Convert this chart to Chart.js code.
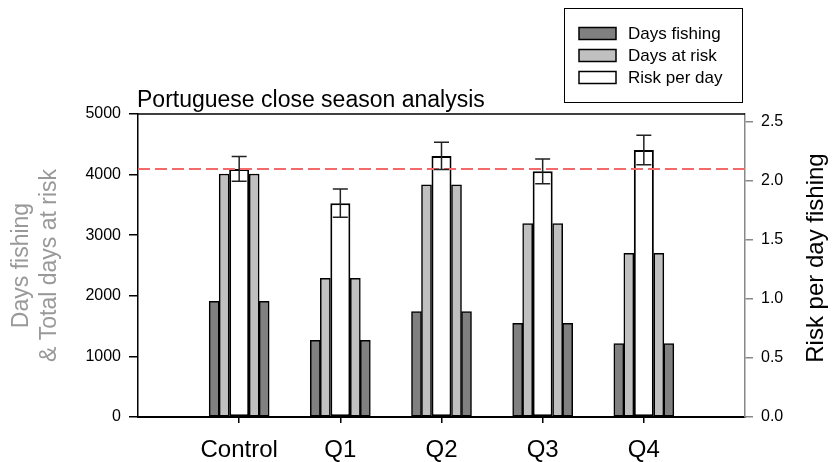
<!DOCTYPE html>
<html>
<head>
<meta charset="utf-8">
<script src="https://cdn.jsdelivr.net/npm/chart.js@4/dist/chart.umd.min.js"></script>
<style>
    html, body { margin: 0; padding: 0; background: #fff; }
</style>
</head>
<body>
<canvas id="myChart" width="834" height="462"></canvas>
<script>
const categories = ['Control', 'Q1', 'Q2', 'Q3', 'Q4'];
const daysFishing = [1910, 1265, 1740, 1545, 1210];
const daysAtRisk = [4010, 2290, 3830, 3190, 2700];
const riskPerDay = [2.10, 1.81, 2.21, 2.08, 2.26];
const riskError = [0.105, 0.12, 0.115, 0.105, 0.125];
const referenceRisk = 2.10;
const leftTicks = [0, 1000, 2000, 3000, 4000, 5000];
const rightTicks = [0, 0.5, 1.0, 1.5, 2.0, 2.5];

const FONT = "'Liberation Sans', Arial, sans-serif";
const chartTitle = 'Portuguese close season analysis';
const rightTitle = 'Risk per day fishing';

// one empty slot each side of the categories, like the original x range
const labels = ['', ...categories, ''];


function pad(values) {
    return [null, ...values, null];
}


function barSet(label, values, color, inLegend) {
    return {
        type: 'bar',
        label: label,
        data: pad(values),
        backgroundColor: color,
        borderColor: '#000',
        borderWidth: 1.5,
        borderSkipped: false,
        barThickness: 10,
        yAxisID: 'y',
        inLegend: inLegend
    };
}


function getDatasets() {
    return [
        barSet('Days fishing', daysFishing, '#808080', true),
        barSet('Days at risk', daysAtRisk, '#c0c0c0', true),
        barSet('', [null, null, null, null, null], '#fff', false),
        barSet('', [null, null, null, null, null], '#fff', false),
        barSet('Days at risk', daysAtRisk, '#c0c0c0', false),
        barSet('Days fishing', daysFishing, '#808080', false),
        {
            type: 'bar',
            label: 'Risk per day',
            data: pad(riskPerDay),
            backgroundColor: '#fff',
            borderColor: '#000',
            borderWidth: 2,
            borderSkipped: false,
            grouped: false,
            categoryPercentage: 0.198,
            barPercentage: 1,
            yAxisID: 'y1',
            inLegend: true
        },
        {
            type: 'line',
            label: 'reference',
            data: labels.map(() => referenceRisk),
            borderColor: '#f26a6a',
            borderWidth: 2,
            borderDash: [12, 5],
            pointRadius: 0,
            yAxisID: 'y1',
            order: -1
        }
    ];
}


const decorations = {
    id: 'decorations',
    afterDatasetsDraw(chart) {
        const ctx = chart.ctx;
        const riskIndex = chart.data.datasets.findIndex(d => d.label === 'Risk per day');
        const meta = chart.getDatasetMeta(riskIndex);
        const scale = chart.scales.y1;
        ctx.save();
        ctx.strokeStyle = '#222';
        ctx.lineWidth = 1.5;
        riskPerDay.forEach((v, i) => {
            const x = meta.data[i + 1].x;
            const top = scale.getPixelForValue(v + riskError[i]);
            const bottom = scale.getPixelForValue(v - riskError[i]);
            ctx.beginPath();
            ctx.moveTo(x, top);
            ctx.lineTo(x, bottom);
            ctx.moveTo(x - 7.5, top);
            ctx.lineTo(x + 7.5, top);
            ctx.moveTo(x - 7.5, bottom);
            ctx.lineTo(x + 7.5, bottom);
            ctx.stroke();
        });
        ctx.restore();
    },
    afterDraw(chart) {
        const ctx = chart.ctx;
        const area = chart.chartArea;
        ctx.save();

        // frame line on top of the plot
        ctx.strokeStyle = '#000';
        ctx.lineWidth = 1.5;
        ctx.beginPath();
        ctx.moveTo(area.left, area.top);
        ctx.lineTo(area.right, area.top);
        ctx.stroke();

        // title
        ctx.fillStyle = '#000';
        ctx.font = '23px ' + FONT;
        ctx.textAlign = 'left';
        ctx.textBaseline = 'alphabetic';
        ctx.fillText(chartTitle, area.left - 1, 107);

        // right axis title, reading upwards
        ctx.save();
        ctx.translate(816, 258);
        ctx.rotate(-Math.PI / 2);
        ctx.font = '24px ' + FONT;
        ctx.textAlign = 'center';
        ctx.textBaseline = 'middle';
        ctx.fillText(rightTitle, 0, 0);
        ctx.restore();

        // legend box
        const boxX = area.right - 181;
        const boxY = 8;
        ctx.lineWidth = 1;
        ctx.strokeRect(boxX + 0.5, boxY + 0.5, 178, 94);
        ctx.font = '17px ' + FONT;
        ctx.textBaseline = 'middle';
        const items = chart.data.datasets.filter(d => d.inLegend);
        items.forEach((d, i) => {
            const y = boxY + 25.5 + i * 22;
            ctx.fillStyle = d.backgroundColor;
            ctx.fillRect(boxX + 15, y - 6, 37, 12);
            ctx.lineWidth = 1.5;
            ctx.strokeStyle = '#000';
            ctx.strokeRect(boxX + 15, y - 6, 37, 12);
            ctx.fillStyle = '#000';
            ctx.fillText(d.label, boxX + 64, y + 1);
        });
        ctx.restore();
    }
};


function createChart() {
    const ctx = document.getElementById('myChart').getContext('2d');
    new Chart(ctx, {
        data: {
            labels: labels,
            datasets: getDatasets()
        },
        options: {
            responsive: false,
            animation: false,
            devicePixelRatio: 1,
            layout: { padding: { top: 114, left: 0, right: 0, bottom: 0 } },
            plugins: {
                legend: { display: false },
                title: { display: false },
                tooltip: { enabled: false }
            },
            scales: {
                x: {
                    type: 'category',
                    offset: false,
                    grid: {
                        offset: false,
                        drawOnChartArea: false,
                        tickLength: 6,
                        lineWidth: 1.5,
                        color: c => (c.index === 0 || c.index === labels.length - 1) ? 'rgba(0,0,0,0)' : '#000'
                    },
                    border: { color: '#000', width: 2 },
                    ticks: {
                        color: '#000',
                        font: { family: FONT, size: 24 },
                        padding: 13,
                        autoSkip: false,
                        maxRotation: 0
                    },
                    afterFit: s => { s.height = 45; }
                },
                y: {
                    position: 'left',
                    min: 0,
                    max: 5000,
                    afterBuildTicks: s => { s.ticks = leftTicks.map(v => ({ value: v })); },
                    grid: { drawOnChartArea: false, tickLength: 9, color: '#000', lineWidth: 1.5 },
                    border: { color: '#000', width: 1.5 },
                    ticks: {
                        color: '#000',
                        font: { family: FONT, size: 16 },
                        padding: 8,
                        callback: v => String(v)
                    },
                    title: {
                        display: true,
                        text: ['Days fishing', '& Total days at risk'],
                        color: '#999',
                        font: { family: FONT, size: 23 },
                        padding: { top: 8, bottom: 0 }
                    },
                    afterFit: s => { s.width = 138; }
                },
                y1: {
                    position: 'right',
                    min: 0,
                    max: 2.565,
                    afterBuildTicks: s => { s.ticks = rightTicks.map(v => ({ value: v })); },
                    grid: { drawOnChartArea: false, tickLength: 8, color: '#888', lineWidth: 1.5 },
                    border: { color: '#888', width: 1.5 },
                    ticks: {
                        color: '#000',
                        font: { family: FONT, size: 16 },
                        padding: 8,
                        callback: v => Number(v).toFixed(1)
                    },
                    afterFit: s => { s.width = 89; }
                }
            }
        },
        plugins: [decorations]
    });
}


createChart();
</script>
</body>
</html>
